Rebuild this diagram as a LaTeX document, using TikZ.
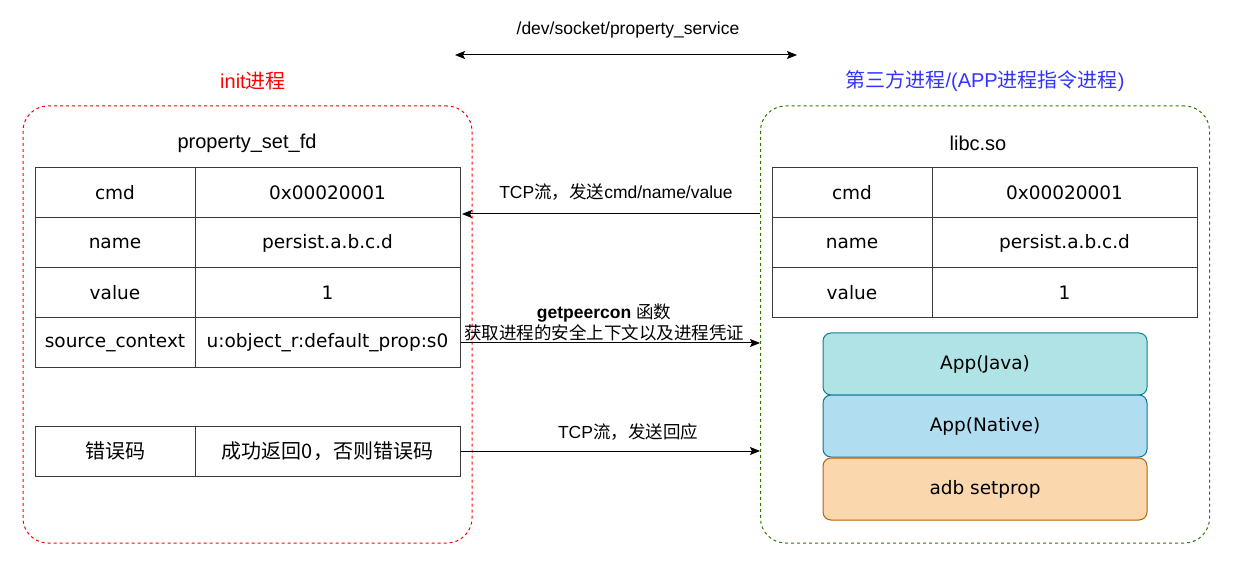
\documentclass[tikz,border=0pt]{standalone}
\usepackage{fontspec}
\setmainfont{Liberation Sans}
\newfontfamily\cjk{Noto Sans CJK SC}
\newfontfamily\cellfont{DejaVu Sans}
\usetikzlibrary{arrows.meta}

\definecolor{initred}{RGB}{255,0,0}
\definecolor{appgreen}{RGB}{45,118,0}
\definecolor{appblue}{RGB}{51,51,255}
\definecolor{tabline}{RGB}{54,57,61}
\definecolor{javafill}{HTML}{B0E3E6}
\definecolor{javaline}{HTML}{0E8088}
\definecolor{nativefill}{HTML}{B1DDF0}
\definecolor{nativeline}{HTML}{10739E}
\definecolor{adbfill}{HTML}{FAD7AC}
\definecolor{adbline}{HTML}{B46504}

\tikzset{
  box/.style = {dash pattern=on 3pt off 3pt, line width=1pt, rounded corners=25pt,
                minimum width=449pt, minimum height=437pt, inner sep=0},
  cell/.style = {draw=tabline, line width=1pt, minimum height=50pt, inner sep=0,
                 font=\cellfont\fontsize{18.5}{22}\selectfont},
  keycell/.style = {cell, minimum width=160pt},
  valcell/.style = {cell, minimum width=265pt},
  zhcell/.style = {font=\cjk\fontsize{20}{24}\selectfont},
  layer/.style = {draw, line width=1pt, rounded corners=8pt, minimum width=324pt,
                  minimum height=62pt, inner sep=0, font=\cellfont\fontsize{18.5}{22}\selectfont},
  flow/.style = {-{Stealth[length=10pt,width=8pt,inset=2pt]}, line width=1pt},
  lbl/.style = {font=\fontsize{17.5}{21}\selectfont, inner sep=0},
  head/.style = {font=\fontsize{20}{24}\selectfont, inner sep=0}
}

\begin{document}
\begin{tikzpicture}[x=1pt,y=-1pt]
  \useasboundingbox (0,0) rectangle (1248,569);

  % socket
  \node[lbl] (sock) at (628,30) {/dev/socket/property\_service};
  \coordinate (sockL) at (455,55);
  \coordinate (sockR) at (797,55);
  \draw[flow, {Stealth[length=10pt,width=8pt,inset=2pt]}-{Stealth[length=10pt,width=8pt,inset=2pt]}] (sockL) -- (sockR);

  % init side
  \node[head, text=initred] (inittitle) at (253,81) {init{\cjk 进程}};
  \node[box, draw=initred] (initbox) at (247.5,324.5) {};
  \node[head] (fdtitle) at (247,143) {property\_set\_fd};
  \node[keycell] (cmdK) at (115,193) {cmd};
  \node[valcell] (cmdV) at (327.5,193) {0x00020001};
  \node[keycell] (nameK) at (115,243) {name};
  \node[valcell] (nameV) at (327.5,243) {persist.a.b.c.d};
  \node[keycell] (valK) at (115,293) {value};
  \node[valcell] (valV) at (327.5,293) {1};
  \node[keycell] (ctxK) at (115,343) {source\_context};
  \node[valcell] (ctxV) at (327.5,343) {u:object\_r:default\_prop:s0};
  \node[keycell, zhcell] (errK) at (115,451) {错误码};
  \node[valcell, zhcell] (errV) at (327.5,451) {成功返回0，否则错误码};

  % app side
  \node[head, text=appblue] (apptitle) at (985,81) {{\cjk 第三方进程}/({APP}{\cjk 进程指令进程})};
  \node[box, draw=appgreen] (appbox) at (985,324.5) {};
  \node[head] (libc) at (978,143) {libc.so};
  \node[keycell] (cmdK2) at (852,193) {cmd};
  \node[valcell] (cmdV2) at (1064.5,193) {0x00020001};
  \node[keycell] (nameK2) at (852,243) {name};
  \node[valcell] (nameV2) at (1064.5,243) {persist.a.b.c.d};
  \node[keycell] (valK2) at (852,293) {value};
  \node[valcell] (valV2) at (1064.5,293) {1};
  \node[layer, draw=javaline, fill=javafill] (java) at (985,364) {App(Java)};
  \node[layer, draw=nativeline, fill=nativefill] (native) at (985,426) {App(Native)};
  \node[layer, draw=adbline, fill=adbfill] (adb) at (985,489) {adb setprop};

  % messages
  \coordinate (reqend) at (462,214);
  \draw[flow] (appbox.west |- reqend) -- (reqend);
  \node[lbl] (reqlbl) at (616,192) {TCP{\cjk 流，发送}cmd/name/value};
  \draw[flow] (ctxV.east) -- (appbox.west |- ctxV.east);
  \node[lbl] (peerlbl) at (604,313) {\textbf{getpeercon} {\cjk 函数}};
  \node[lbl] (peerlbl2) at (604,333) {\cjk 获取进程的安全上下文以及进程凭证};
  \draw[flow] (errV.east) -- (appbox.west |- errV.east);
  \node[lbl] (ackl) at (628,432) {TCP{\cjk 流，发送回应}};
\end{tikzpicture}
\end{document}
